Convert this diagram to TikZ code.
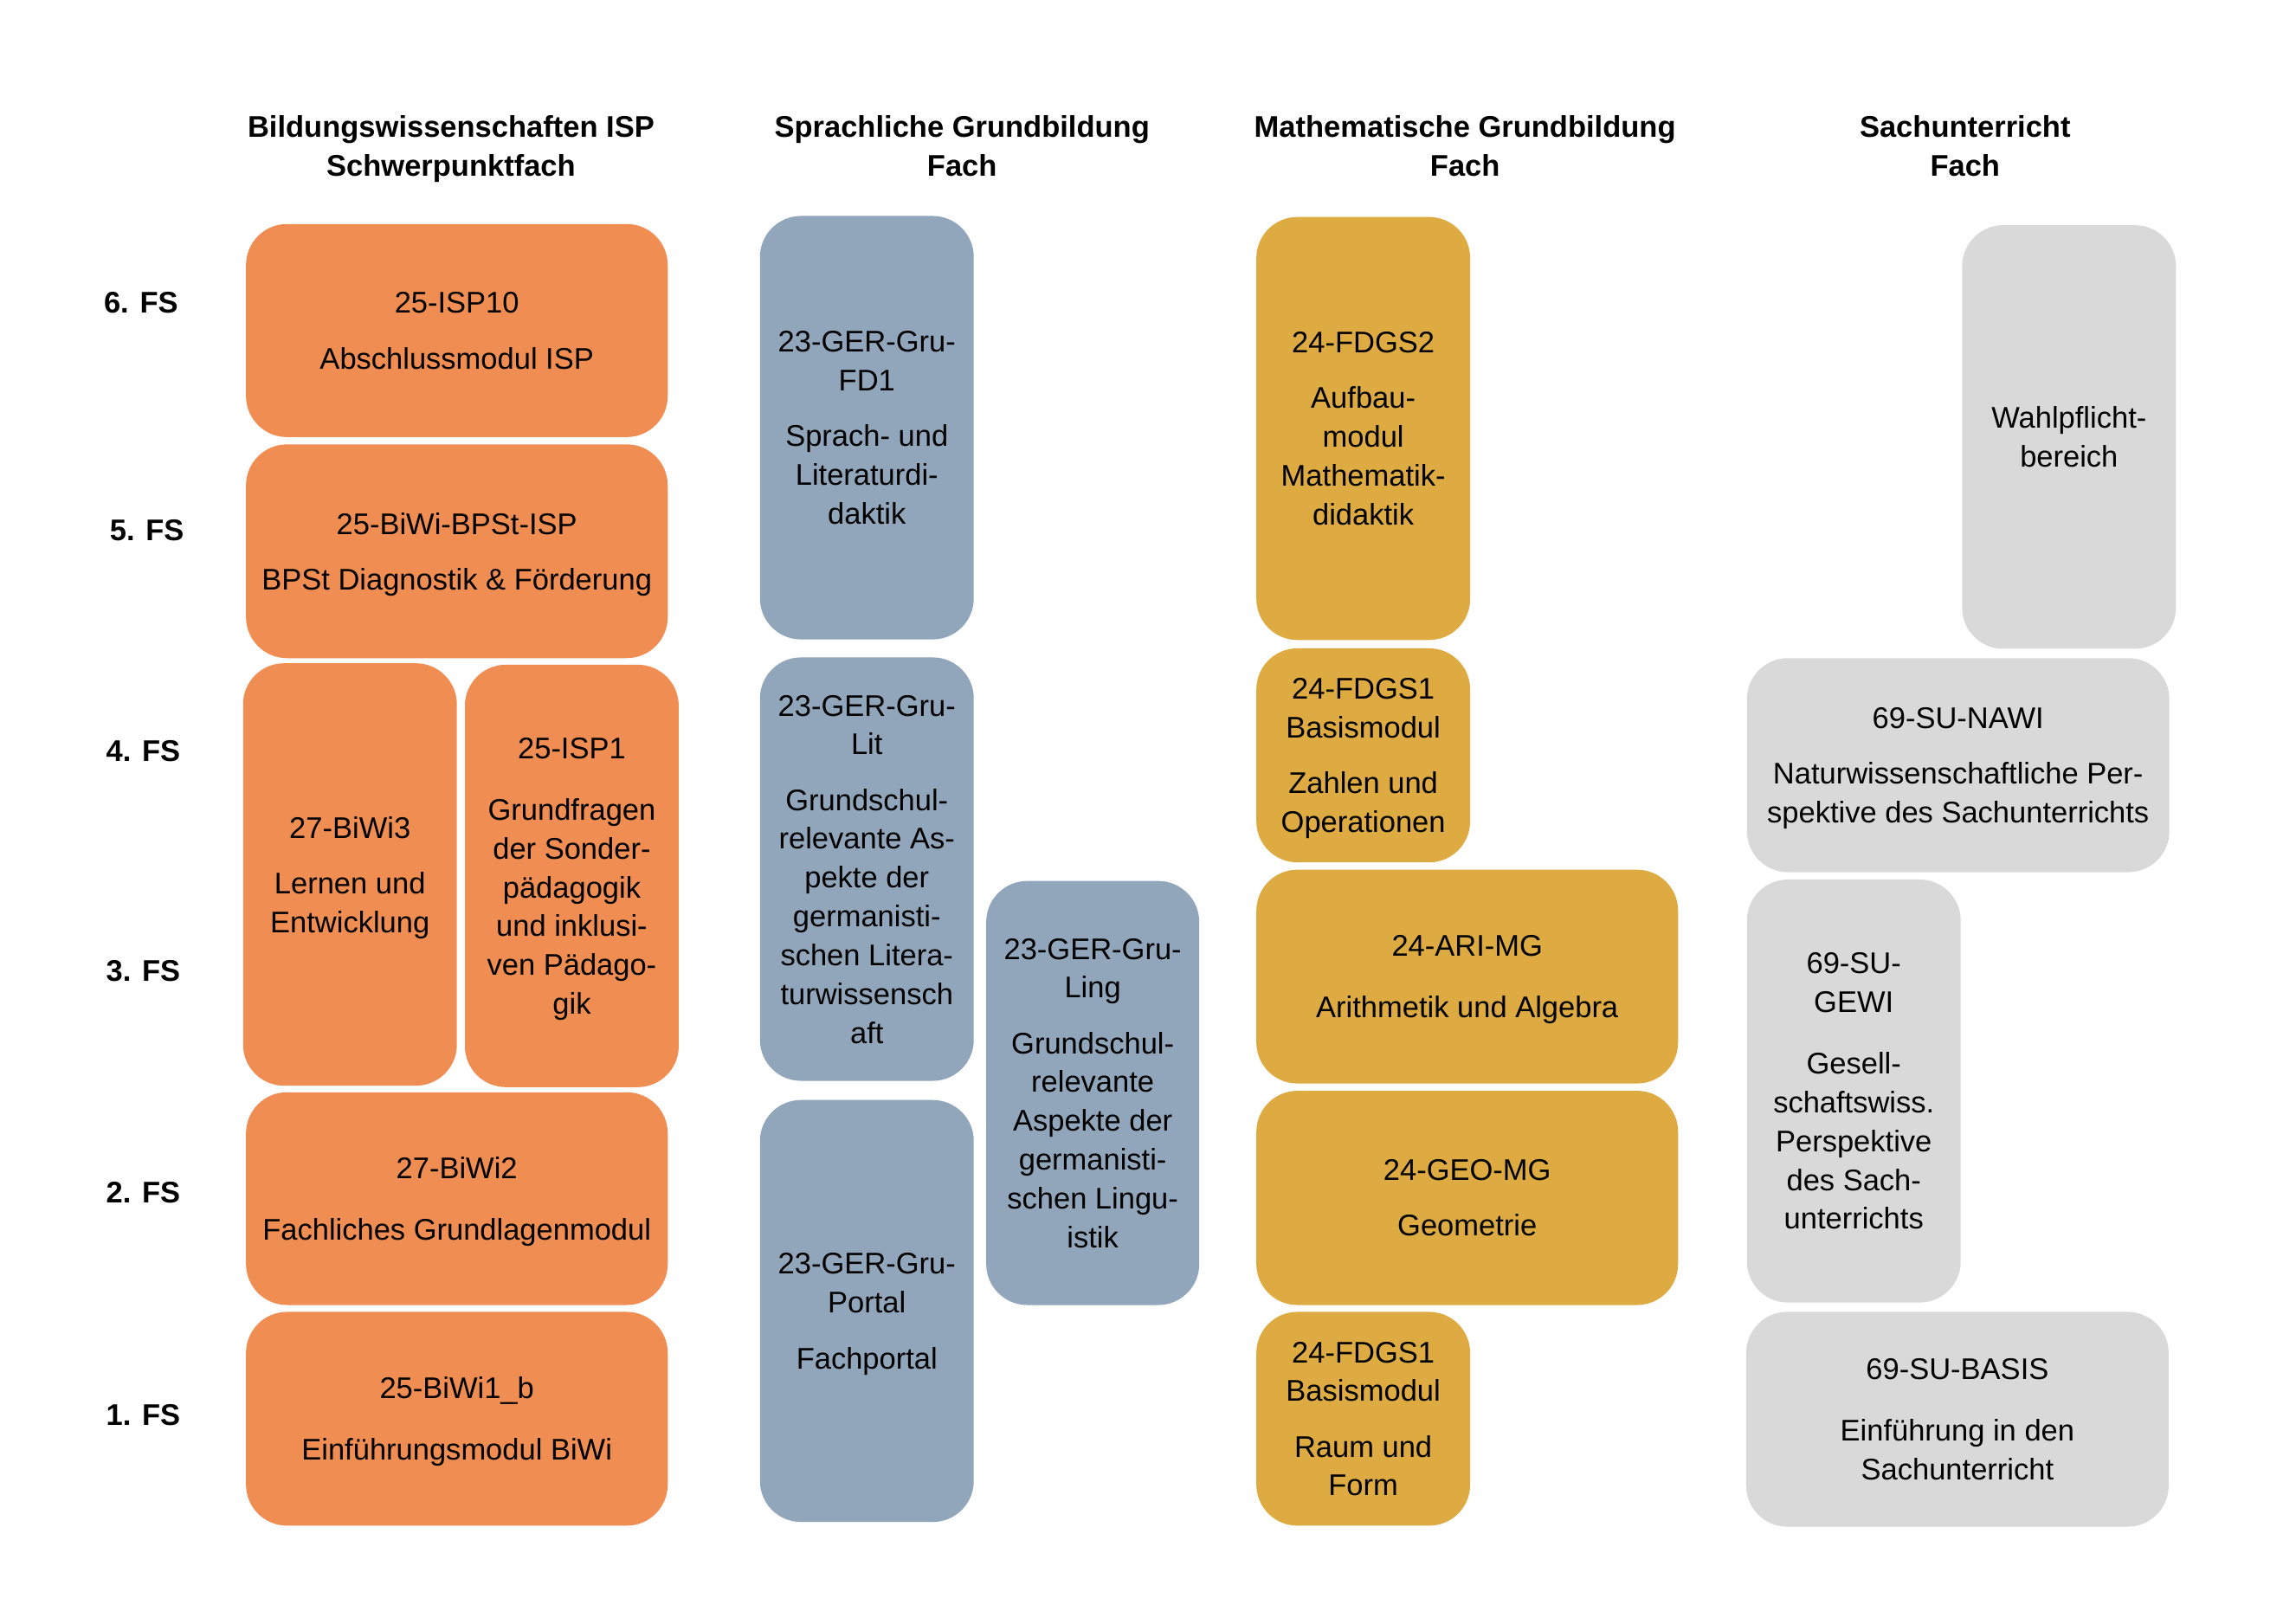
\documentclass[tikz,border=0pt]{standalone}
\usepackage{fontspec}
\setmainfont{Liberation Sans}
\definecolor{cOrange}{HTML}{F08D52}
\definecolor{cBlue}{HTML}{91A6BB}
\definecolor{cGold}{HTML}{DDAB42}
\definecolor{cGray}{HTML}{D9D9D9}
\newcommand\pg{\\[5.75pt]}
\newcommand\pgg{\\[7.75pt]}
\newcommand\modul[7]{%
  \node[modbox,fill=#6,minimum width={(#4-#2)*0.5pt},minimum height={(#5-#3)*0.5pt}]
    (#1) at ({(#2+#4)/2},{(#3+#5)/2}) {#7};}
\tikzset{
  modbox/.style={rectangle,rounded corners=14pt,draw=none,align=center,inner sep=1pt,
    text depth=0pt,font=\fontsize{10.2}{13.25}\selectfont,text=black},
  headtxt/.style={align=center,inner sep=0pt,text depth=0pt,
    font=\fontsize{10.2}{13.1}\selectfont\bfseries},
  fslabel/.style={inner sep=0pt,text depth=0pt,font=\fontsize{10.2}{13}\selectfont\bfseries}
}
\begin{document}
\begin{tikzpicture}[x=0.5pt,y=-0.5pt]
\useasboundingbox[fill=white] (0,0) rectangle (1568,1108.6);
% headers
\node[headtxt] (h1) at (308,99.6) {Bildungswissenschaften ISP\\Schwerpunktfach};
\node[headtxt] (h2) at (657,99.6) {Sprachliche Grundbildung\\Fach};
\node[headtxt] (h3) at (1000.5,99.6) {Mathematische Grundbildung\\Fach};
\node[headtxt] (h4) at (1342,99.6) {Sachunterricht\\Fach};
% semester labels
\node[fslabel] (fs6) at (96.3,206.8) {6. FS};
\node[fslabel] (fs5) at (100.3,362) {5. FS};
\node[fslabel] (fs4) at (97.8,513) {4. FS};
\node[fslabel] (fs3) at (97.8,662.8) {3. FS};
\node[fslabel] (fs2) at (97.8,814.4) {2. FS};
\node[fslabel] (fs1) at (97.8,966.5) {1. FS};
% Bildungswissenschaften
\modul{isp10}{168}{153}{456}{298.5}{cOrange}{25-ISP10\pg Abschlussmodul ISP}
\modul{bpst}{168}{303.5}{456}{449.5}{cOrange}{25-BiWi-BPSt-ISP\pg BPSt Diagnostik \& Förderung}
\modul{biwi3}{166}{453}{312}{741.5}{cOrange}{27-BiWi3\pg Lernen und\\Entwicklung}
\modul{isp1}{317.5}{454}{463.5}{742.5}{cOrange}{25-ISP1\pgg Grundfragen\\der Sonder-\\pädagogik\\und inklusi-\\ven Pädago-\\gik}
\modul{biwi2}{168}{746}{456}{891.3}{cOrange}{27-BiWi2\pgg Fachliches Grundlagenmodul}
\modul{biwi1}{168}{896}{456}{1042}{cOrange}{25-BiWi1\_b\pgg Einführungsmodul BiWi}
% Sprachliche Grundbildung
\modul{fd1}{519}{147.5}{665}{436.7}{cBlue}{23-GER-Gru-\\FD1\pg Sprach- und\\Literaturdi-\\daktik}
\modul{lit}{519}{449}{665}{738.2}{cBlue}{23-GER-Gru-\\Lit\pg Grundschul-\\relevante As-\\pekte der\\germanisti-\\schen Litera-\\turwissensch\\aft}
\modul{portal}{519}{751.3}{665}{1039.5}{cBlue}{23-GER-Gru-\\Portal\pg Fachportal}
\modul{ling}{673.5}{601.7}{819}{891.3}{cBlue}{23-GER-Gru-\\Ling\pg Grundschul-\\relevante\\Aspekte der\\germanisti-\\schen Lingu-\\istik}
% Mathematische Grundbildung
\modul{fdgs2}{858}{148.2}{1004}{437.1}{cGold}{24-FDGS2\pg Aufbau-\\modul\\Mathematik-\\didaktik}
\modul{fdgsa}{858}{442.8}{1004}{589}{cGold}{24-FDGS1\\Basismodul\pg Zahlen und\\Operationen}
\modul{ari}{858}{594}{1146}{740}{cGold}{24-ARI-MG\pgg Arithmetik und Algebra}
\modul{geo}{858}{745}{1146}{891.3}{cGold}{24-GEO-MG\pg Geometrie}
\modul{fdgsb}{858}{896}{1004}{1042}{cGold}{24-FDGS1\\Basismodul\pg Raum und\\Form}
% Sachunterricht
\modul{wahl}{1340}{153.8}{1486}{443.1}{cGray}{Wahlpflicht-\\bereich}
\modul{nawi}{1193}{449.5}{1481.5}{595.7}{cGray}{69-SU-NAWI\pg Naturwissenschaftliche Per-\\spektive des Sachunterrichts}
\modul{gewi}{1193}{600.7}{1339}{889.6}{cGray}{69-SU-\\GEWI\pgg Gesell-\\schaftswiss.\\Perspektive\\des Sach-\\unterrichts}
\modul{basis}{1192.5}{896}{1481}{1042.7}{cGray}{69-SU-BASIS\pgg Einführung in den\\Sachunterricht}
\end{tikzpicture}
\end{document}
